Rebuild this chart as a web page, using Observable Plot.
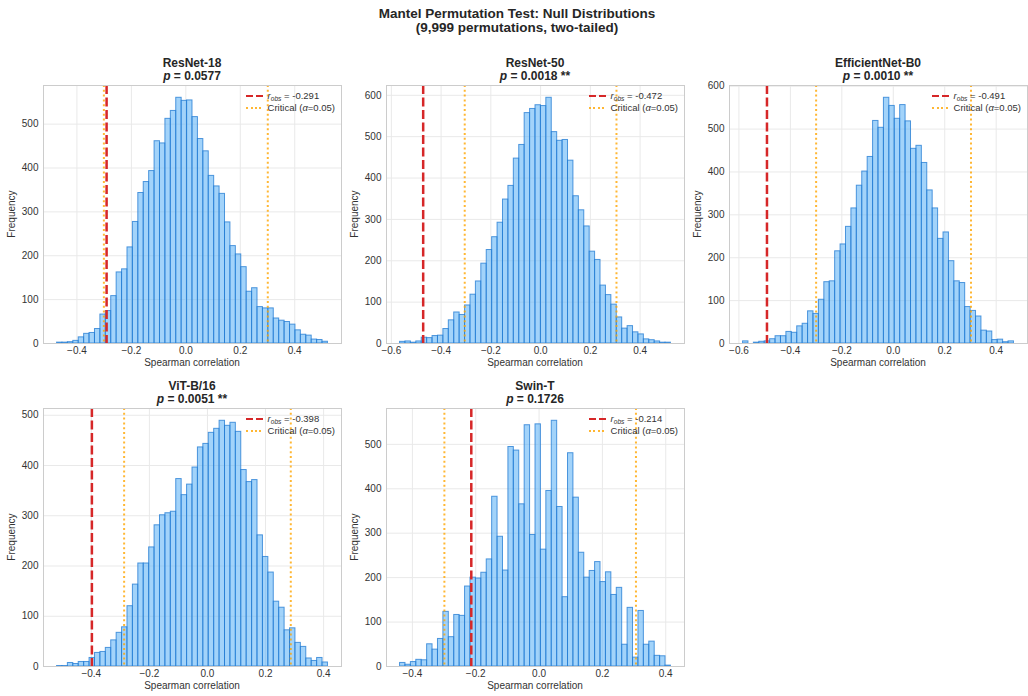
<!DOCTYPE html>
<html>
<head>
<meta charset="utf-8">
<script src="https://cdn.jsdelivr.net/npm/d3@7"></script>
<script src="https://cdn.jsdelivr.net/npm/@observablehq/plot@0.6"></script>
<style>
  body { margin: 0; background: #fff; font-family: "Liberation Sans", Arial, sans-serif; color: #262626; }
  #fig { position: relative; width: 1028px; height: 696px; overflow: hidden; background: #fff; }
  .abs { position: absolute; }
  .suptitle { left: 0; width: 1034px; text-align: center; font-weight: bold; font-size: 13.5px; line-height: 14px; color: #262626; }
  .ptitle { text-align: center; font-weight: bold; font-size: 12px; line-height: 13px; color: #262626; white-space: nowrap; }
  .xlabel { text-align: center; font-size: 10px; line-height: 12px; color: #333; white-space: nowrap; }
  .ylabel { font-size: 10px; line-height: 12px; color: #333; white-space: nowrap; transform: translate(-50%, -50%) rotate(-90deg); }
  .legend { font-size: 9.5px; color: #333; display: flex; flex-direction: column; align-items: flex-start; }
  .legend .row { height: 12.6px; line-height: 12.6px; display: flex; align-items: center; white-space: nowrap; }
  .legend .sw { display: inline-block; width: 17px; margin-right: 5px; }
  .legend .sw.red { height: 2.5px; background: repeating-linear-gradient(to right, #d62728 0 7px, transparent 7px 10px); }
  .legend .sw.orange { height: 2px; background: repeating-linear-gradient(to right, rgba(255,165,0,0.8) 0 2px, transparent 2px 4.5px); }
  .legend sub { font-size: 70%; vertical-align: -2px; line-height: 0; }
</style>
</head>
<body>
<div id="fig"></div>
<script>
// ---------------- data ----------------
const models = ["ResNet-18", "ResNet-50", "EfficientNet-B0", "ViT-B/16", "Swin-T"];
const pValues = ["0.0577", "0.0018", "0.0010", "0.0051", "0.1726"];
const pStars = ["", " **", " **", " **", ""];
const rObs = [-0.291, -0.472, -0.491, -0.398, -0.214];
const critLow = [-0.301, -0.305, -0.300, -0.287, -0.299];
const critHigh = [0.301, 0.305, 0.302, 0.287, 0.306];
const binStart = [-0.473, -0.565, -0.584, -0.518, -0.439];
const binWidth = [0.0199, 0.02178, 0.02106, 0.01866, 0.01711];

const countsResNet18 = [2,2,3,6,14,22,24,33,66,74,108,162,169,219,277,343,368,393,461,456,512,530,560,553,554,516,466,438,382,358,341,276,222,203,174,118,126,83,80,80,57,52,49,43,30,20,18,9,8,4];
const countsResNet50 = [4,5,2,5,14,13,18,19,35,56,75,69,92,118,150,193,226,257,292,348,381,447,480,557,567,576,574,594,511,490,492,442,356,322,283,222,202,140,117,94,63,36,42,27,22,10,8,5,2,2];
const countsEffNetB0 = [5,0,2,4,5,10,17,17,27,25,40,46,75,69,102,143,145,215,231,272,315,368,401,435,519,503,573,554,524,556,518,454,461,421,357,315,244,259,192,145,141,85,76,63,30,28,8,9,3,5];
const countsViTB16 = [1,1,7,5,9,9,17,27,29,37,52,67,78,120,163,205,205,237,281,301,305,308,373,341,362,396,436,443,465,473,489,479,485,467,391,367,371,261,218,187,129,117,72,76,47,39,16,11,17,8];
const countsSwinT = [8,4,10,15,14,50,38,62,123,66,116,114,180,200,198,211,241,382,292,216,494,486,365,543,296,545,263,395,553,359,156,480,380,256,200,215,235,190,212,161,177,49,132,20,125,49,56,24,23,2];

const xTicksA = [-0.4, -0.2, 0, 0.2, 0.4];
const xTicksB = [-0.6, -0.4, -0.2, 0, 0.2, 0.4];
const yTicks500 = [0, 100, 200, 300, 400, 500];
const yTicks600 = [0, 100, 200, 300, 400, 500, 600];

const titleLine1 = "Mantel Permutation Test: Null Distributions";
const titleLine2 = "(9,999 permutations, two-tailed)";
const xLabel = "Spearman correlation";
const yLabel = "Frequency";
const legendCritical = "Critical (<i>α</i>=0.05)";

const panelCounts = [countsResNet18, countsResNet50, countsEffNetB0, countsViTB16, countsSwinT];
const panelXTicks = [xTicksA, xTicksB, xTicksB, xTicksA, xTicksA];
const panelYTicks = [yTicks500, yTicks600, yTicks600, yTicks500, yTicks500];

// ---------------- layout ----------------
const FW = 298, FH = 258;
const frameLefts = [43, 386, 729, 43, 386];
const frameTops = [85, 85, 85, 408, 408];
const ML = 40, MR = 5, MT = 5, MB = 22;

const fig = document.getElementById("fig");
function addDiv(cls, html, style) {
  const d = document.createElement("div");
  d.className = "abs " + cls;
  d.innerHTML = html;
  Object.assign(d.style, style);
  fig.appendChild(d);
  return d;
}

addDiv("suptitle", titleLine1 + "<br>" + titleLine2, { top: "7px" });

models.forEach((name, i) => {
  const s = binStart[i], w = binWidth[i], counts = panelCounts[i];
  const bars = counts.map((c, k) => ({ x0: s + k * w, x1: s + (k + 1) * w, y0: 0, count: c }));
  const lo = s, hi = s + counts.length * w, pad = 0.05 * (hi - lo);
  const ymax = d3.max(counts) * 1.05;
  const xt = panelXTicks[i], yt = panelYTicks[i];

  const svg = Plot.plot({
    width: ML + FW + MR,
    height: MT + FH + MB,
    marginLeft: ML, marginRight: MR, marginTop: MT, marginBottom: MB,
    style: { fontFamily: "'Liberation Sans', Arial, sans-serif", fontSize: "10px", color: "#333", background: "transparent", overflow: "visible" },
    x: { domain: [lo - pad, hi + pad] },
    y: { domain: [0, ymax] },
    marks: [
      Plot.gridX(xt, { stroke: "#e9e9e9", strokeOpacity: 1, strokeWidth: 1 }),
      Plot.gridY(yt, { stroke: "#e9e9e9", strokeOpacity: 1, strokeWidth: 1 }),
      Plot.rect(bars, { x1: "x0", x2: "x1", y1: "y0", y2: "count", fill: "#64B5F6", fillOpacity: 0.6, stroke: "#1E78D2", strokeOpacity: 0.75, strokeWidth: 1 }),
      Plot.ruleX([critLow[i], critHigh[i]], { stroke: "#FFA500", strokeOpacity: 0.8, strokeWidth: 2, strokeDasharray: "2,2.8" }),
      Plot.ruleX([rObs[i]], { stroke: "#d62728", strokeWidth: 2.5, strokeDasharray: "9,3.5" }),
      Plot.frame({ stroke: "#cccccc", strokeWidth: 1 }),
      Plot.axisX(xt, { anchor: "bottom", tickSize: 0, tickPadding: 3, tickFormat: d3.format(".1f"), label: null, fill: "#333" }),
      Plot.axisY(yt, { anchor: "left", tickSize: 0, tickPadding: 5, label: null, fill: "#333" })
    ]
  });
  svg.style.position = "absolute";
  svg.style.left = (frameLefts[i] - ML) + "px";
  svg.style.top = (frameTops[i] - MT) + "px";
  fig.appendChild(svg);

  const fl = frameLefts[i], ft = frameTops[i];
  addDiv("ptitle", name + "<br><i>p</i> = " + pValues[i] + pStars[i],
    { left: fl + "px", width: FW + "px", top: (ft - 28.5) + "px" });
  addDiv("xlabel", xLabel, { left: fl + "px", width: FW + "px", top: (ft + FH + 14) + "px" });
  addDiv("ylabel", yLabel, { left: (fl - 31) + "px", top: (ft + FH / 2) + "px" });
  addDiv("legend",
    '<div class="row"><span class="sw red"></span><span><i>r</i><sub><i>obs</i></sub> = ' + rObs[i].toFixed(3) + '</span></div>' +
    '<div class="row"><span class="sw orange"></span><span>' + legendCritical + '</span></div>',
    { right: (1028 - (fl + FW) + 6) + "px", top: (ft + 4.5) + "px" });
});
</script>
</body>
</html>
